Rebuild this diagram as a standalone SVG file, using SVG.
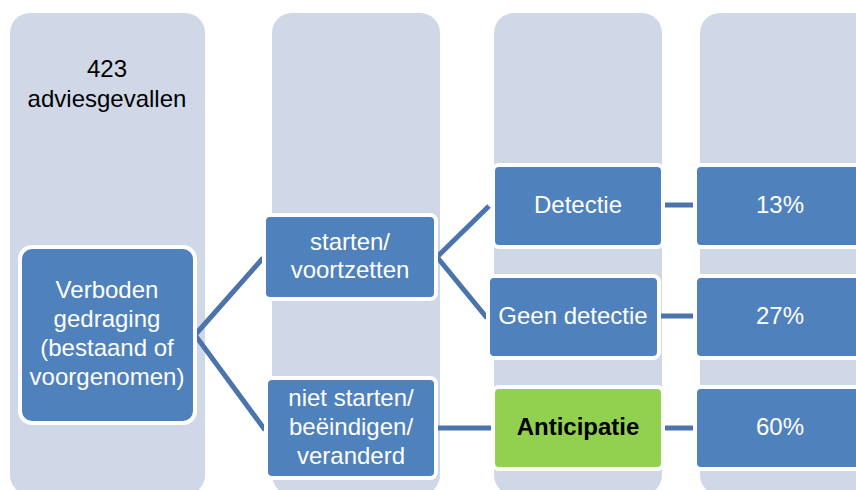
<svg xmlns="http://www.w3.org/2000/svg" width="856" height="490" viewBox="0 0 856 490">
  <style>
    .col { fill: #D0D8E8; }
    .node { fill: #4F81BD; stroke: #FFFFFF; stroke-width: 4; }
    .green { fill: #92D050; stroke: #FFFFFF; stroke-width: 4; }
    .lbl { font-family: "Liberation Sans", Arial, sans-serif; font-size: 24px; fill: #FFFFFF; text-anchor: middle; }
    .dark { fill: #000000; }
    .bold { font-weight: bold; }
    .conn { stroke: #4A74AB; stroke-width: 5; fill: none; stroke-linecap: butt; }
  </style>

  <rect width="856" height="490" fill="#FFFFFF"/>

  <!-- background columns -->
  <g id="columns">
    <rect class="col" x="10" y="13" width="195" height="482" rx="20"/>
    <rect class="col" x="272" y="13" width="168" height="482" rx="20"/>
    <rect class="col" x="494" y="13" width="168" height="482" rx="20"/>
    <rect class="col" x="700" y="13" width="180" height="482" rx="20"/>
  </g>

  <g id="header">
    <text class="lbl dark" x="107" y="77">423</text>
    <text class="lbl dark" x="107" y="107">adviesgevallen</text>
  </g>

  <!-- connectors -->
  <g id="connectors">
    <polyline class="conn" points="263,258 195,335 265,430"/>
    <polyline class="conn" points="489,206 437,257 487,318"/>
    <line class="conn" x1="437" y1="428" x2="491" y2="428"/>
    <line class="conn" x1="664" y1="205" x2="694" y2="205"/>
    <line class="conn" x1="660" y1="316" x2="694" y2="316"/>
    <line class="conn" x1="664" y1="428" x2="694" y2="428"/>
  </g>

  <g id="verboden">
    <rect class="node" x="20" y="247" width="175" height="176" rx="12"/>
    <text class="lbl" x="107" y="298">Verboden</text>
    <text class="lbl" x="107" y="327">gedraging</text>
    <text class="lbl" x="107" y="356">(bestaand of</text>
    <text class="lbl" x="107" y="385">voorgenomen)</text>
  </g>

  <g id="starten">
    <rect class="node" x="264" y="215" width="172" height="84" rx="6"/>
    <text class="lbl" x="350" y="250">starten/</text>
    <text class="lbl" x="350" y="278">voortzetten</text>
  </g>

  <g id="niet-starten">
    <rect class="node" x="266" y="378" width="170" height="100" rx="6"/>
    <text class="lbl" x="351" y="406">niet starten/</text>
    <text class="lbl" x="351" y="435">beëindigen/</text>
    <text class="lbl" x="351" y="464">veranderd</text>
  </g>

  <g id="detectie">
    <rect class="node" x="493" y="165" width="170" height="82" rx="6"/>
    <text class="lbl" x="578" y="213">Detectie</text>
  </g>

  <g id="geen-detectie">
    <rect class="node" x="488" y="276" width="171" height="82" rx="6"/>
    <text class="lbl" x="573" y="324">Geen detectie</text>
  </g>

  <g id="anticipatie">
    <rect class="green" x="493" y="387" width="170" height="82" rx="6"/>
    <text class="lbl dark bold" x="578" y="435">Anticipatie</text>
  </g>

  <g id="pct-13">
    <rect class="node" x="695" y="165" width="180" height="82" rx="6"/>
    <text class="lbl" x="780" y="213">13%</text>
  </g>

  <g id="pct-27">
    <rect class="node" x="695" y="276" width="180" height="82" rx="6"/>
    <text class="lbl" x="780" y="324">27%</text>
  </g>

  <g id="pct-60">
    <rect class="node" x="695" y="387" width="180" height="82" rx="6"/>
    <text class="lbl" x="780" y="435">60%</text>
  </g>
</svg>
